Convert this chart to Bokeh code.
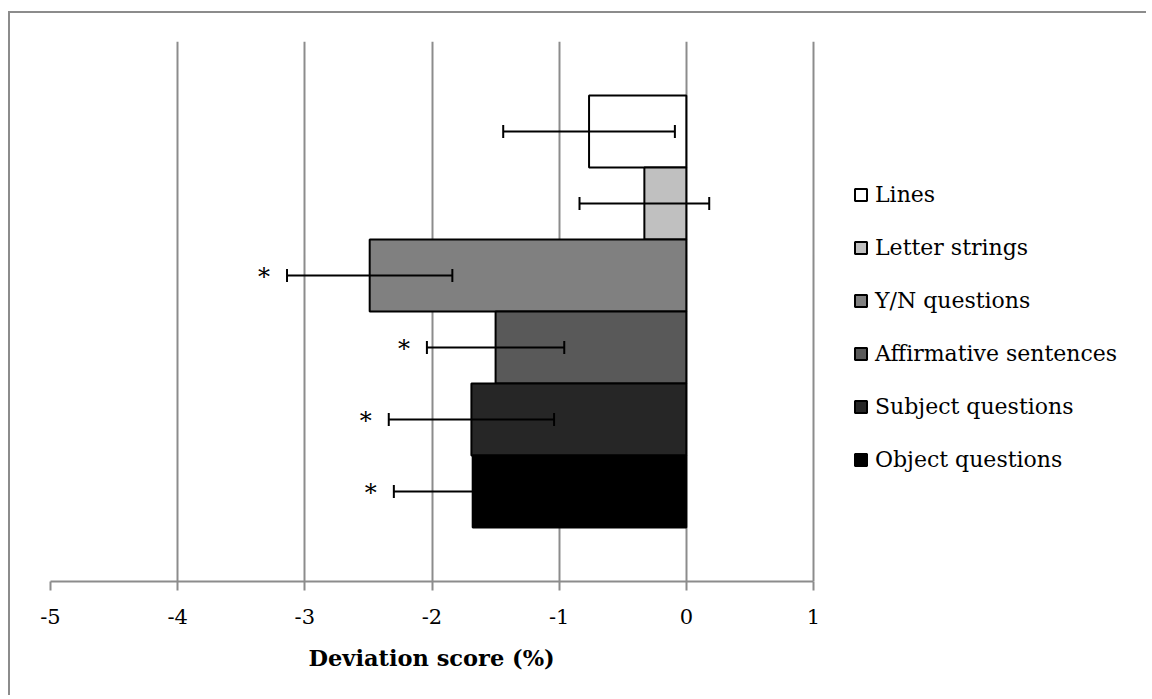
from bokeh.plotting import figure
from bokeh.models import (ColumnDataSource, Range1d, FixedTicker, Whisker, TeeHead,
                          Legend, LegendItem, Title)
from bokeh.core.properties import value
from bokeh.embed import file_html
from bokeh.resources import INLINE

# ---- data ----
conditions = ["Lines", "Letter strings", "Y/N questions", "Affirmative sentences",
              "Subject questions", "Object questions"]
scores = [-0.765, -0.33, -2.49, -1.50, -1.69, -1.68]
errors = [0.675, 0.51, 0.65, 0.54, 0.65, 0.62]
significant = [False, False, True, True, True, True]
colors = ["#ffffff", "#c0c0c0", "#808080", "#595959", "#262626", "#000000"]
x_ticks = [-5, -4, -3, -2, -1, 0, 1]
x_title = "Deviation score (%)"

FONT = "DejaVu Serif"
GRID = "#8c8c8c"

W, H = 1138, 684
LEFT = 40
AXIS_PX = 763            # pixel length of the -5..1 axis
frame_px = W - LEFT      # frame spans to the right edge so the legend is not clipped
x_end = x_ticks[0] + (x_ticks[-1] - x_ticks[0]) * frame_px / AXIS_PX

p = figure(width=W, height=H, output_backend="svg", toolbar_location=None,
           x_range=Range1d(x_ticks[0], x_end), y_range=Range1d(0, 7.5),
           y_axis_location=None, min_border_left=LEFT, min_border_right=0,
           min_border_top=28, min_border_bottom=116)
p.outline_line_color = None
p.background_fill_color = "white"
p.border_fill_color = "white"
# outer chart border: only the top and left edges are visible in the cropped original
p.margin = (11, 0, 0, 8)
p.styles = {"border-top": "2px solid #8c8c8c", "border-left": "2px solid #8c8c8c"}

n = len(conditions)
pos = [n + 0.25 - i for i in range(n)]

items = []
for i in range(n):
    src = ColumnDataSource(dict(y=[pos[i]], right=[scores[i]]))
    r = p.hbar(y="y", left=0, right="right", height=1.0, source=src,
               fill_color=colors[i], line_color="black", line_width=2)
    items.append(LegendItem(label=conditions[i], renderers=[r]))

err_src = ColumnDataSource(dict(
    base=pos,
    lower=[s - e for s, e in zip(scores, errors)],
    upper=[s + e for s, e in zip(scores, errors)],
    star=["*" if s else "" for s in significant],
))
wk = Whisker(base="base", lower="lower", upper="upper", dimension="width",
             source=err_src, line_color="black", line_width=2, level="overlay",
             lower_head=TeeHead(size=13, line_width=2, line_color="black"),
             upper_head=TeeHead(size=13, line_width=2, line_color="black"))
p.add_layout(wk)

p.text(x="lower", y="base", text="star", source=err_src, x_offset=-23, y_offset=1,
       text_align="center", text_baseline="middle", text_font=value(FONT),
       text_font_size="24px", text_color="black")

# axis
ax = p.xaxis[0]
ax.bounds = (x_ticks[0], x_ticks[-1])
ax.ticker = FixedTicker(ticks=x_ticks)
ax.major_label_overrides = {t: str(t) for t in x_ticks}
ax.axis_line_color = GRID
ax.axis_line_width = 2
ax.major_tick_line_color = GRID
ax.major_tick_line_width = 2
ax.major_tick_out = 9
ax.major_tick_in = 0
ax.minor_tick_line_color = None
ax.major_label_text_font = FONT
ax.major_label_text_font_size = "21px"
ax.major_label_text_color = "black"
ax.major_label_standoff = 18

# axis title, centred under the -5..1 axis
p.add_layout(Title(text=x_title, align="left", offset=258, standoff=33,
                   text_font=FONT, text_font_style="bold", text_font_size="22.5px",
                   text_color="black"), "below")

p.xgrid.ticker = FixedTicker(ticks=x_ticks)
p.xgrid.grid_line_color = GRID
p.xgrid.grid_line_width = 2
p.ygrid.grid_line_color = None

legend = Legend(items=items, location=(803, 109), orientation="vertical",
                label_text_font=FONT, label_text_font_size="22px",
                label_text_color="black", glyph_width=15, glyph_height=15,
                label_standoff=7, spacing=28, padding=0, margin=0,
                border_line_color=None, background_fill_alpha=0)
p.add_layout(legend)

open("out.html", "w").write(file_html(p, INLINE))
